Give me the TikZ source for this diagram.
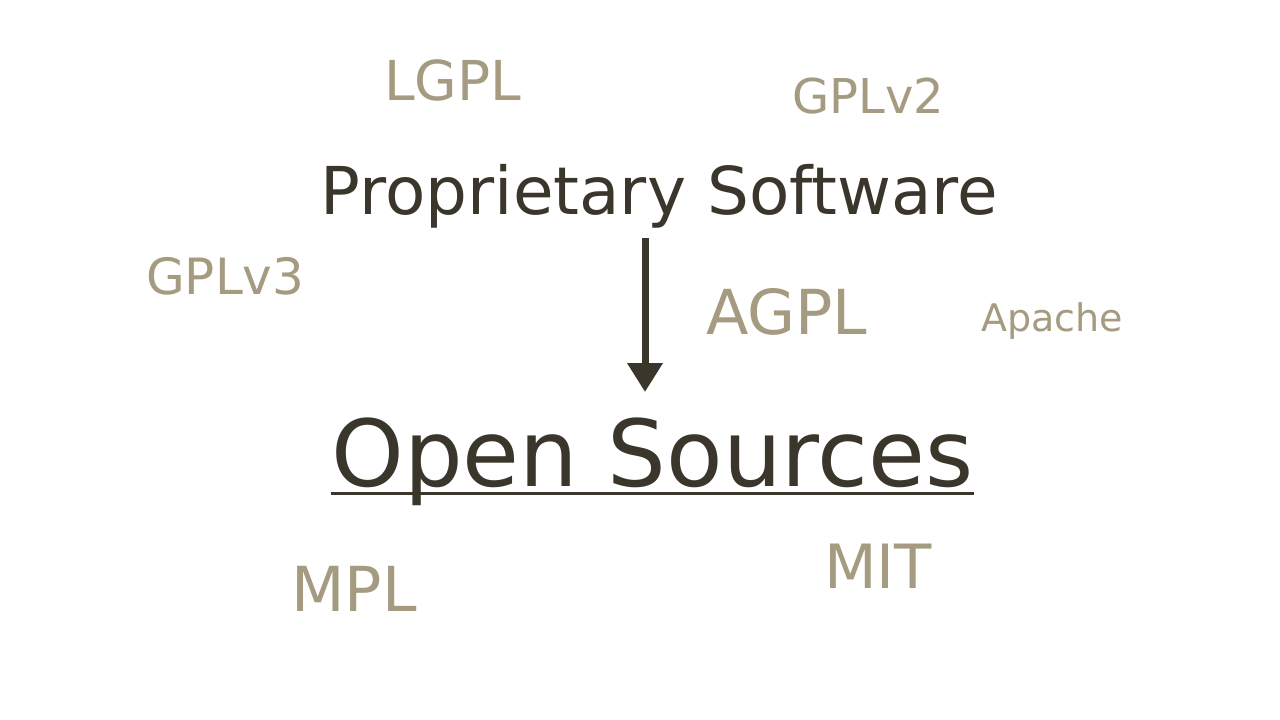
\documentclass[tikz,border=0pt]{standalone}
\usepackage{fontspec}
\setmainfont{DejaVu Sans}
\usetikzlibrary{arrows.meta}
\definecolor{darktxt}{HTML}{3A362C}
\definecolor{tantxt}{HTML}{A59B80}
\tikzset{
  lic/.style={text=tantxt, inner sep=0pt, anchor=base west},
  main/.style={text=darktxt, inner sep=0pt, anchor=base},
  arr/.style={draw=darktxt, line width=7pt, -{Triangle[length=29pt,width=34pt]}}
}
\begin{document}
\begin{tikzpicture}[x=1pt,y=-1pt]
\useasboundingbox (0,0) rectangle (1280,720);
\fill[white] (0,0) rectangle (1280,720);
\node[lic, font=\fontsize{55}{60}\selectfont] (lgpl) at (384,100) {LGPL};
\node[lic, font=\fontsize{48}{54}\selectfont] (gplv2) at (792,113) {GPLv2};
\node[main, font=\fontsize{66}{70}\selectfont] (ps) at (659.5,214) {Proprietary Software};
\node[lic, font=\fontsize{50}{56}\selectfont] (gplv3) at (146,294) {GPLv3};
\node[lic, font=\fontsize{62}{66}\selectfont] (agpl) at (706,334) {AGPL};
\node[lic, font=\fontsize{38}{42}\selectfont] (apache) at (981,331) {Apache};
\node[main, font=\fontsize{92.5}{98}\selectfont] (os) at (652.5,486) {Open Sources};
\node[lic, font=\fontsize{62}{66}\selectfont] (mpl) at (291,611) {MPL};
\node[lic, font=\fontsize{61}{66}\selectfont] (mit) at (824,588) {MIT};
\coordinate (a1) at (645,238);
\coordinate (a2) at (645,392);
\draw[arr] (a1) -- (a2);
\draw[darktxt, line width=3pt] ([yshift=-7pt]os.base west) -- ([yshift=-7pt]os.base east);
\end{tikzpicture}
\end{document}
